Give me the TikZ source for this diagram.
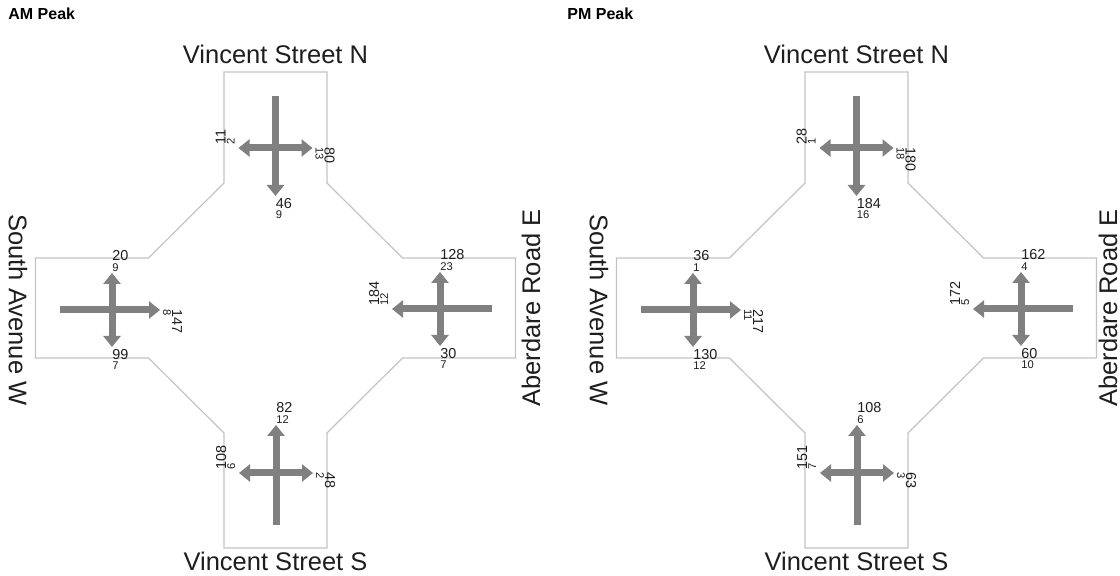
\documentclass[tikz,border=0pt]{standalone}
\usepackage{fontspec}
\setmainfont{Liberation Sans}
\usetikzlibrary{arrows.meta,calc}

\definecolor{roadline}{RGB}{195,195,195}
\definecolor{flowgray}{RGB}{128,128,128}
\definecolor{labeltext}{RGB}{30,30,30}

\tikzset{
    road/.style={draw=roadline, line width=0.6pt},
    flow/.style={draw=flowgray, line width=3.5pt, -{Triangle[length=5.5pt,width=8.5pt]}},
    turns/.style={draw=flowgray, line width=3.5pt, {Triangle[length=5.5pt,width=8.5pt]}-{Triangle[length=5.5pt,width=8.5pt]}},
    bignum/.style={inner sep=0pt, text=labeltext, font=\fontsize{7.2}{7.2}\selectfont},
    smallnum/.style={inner sep=0pt, text=labeltext, font=\fontsize{5.6}{5.6}\selectfont},
    street/.style={inner sep=0pt, text=labeltext, font=\fontsize{12.75}{13}\selectfont},
    peak/.style={inner sep=0pt, font=\bfseries\fontsize{8}{8}\selectfont},
    movecross/.pic={
        \draw [turns] (-37,0) coordinate (-rt) -- (37,0) coordinate (-lt);
        \draw [flow] (0,-52) -- (0,48) coordinate (-th);
    }
}

% volumes next to an arrow tip: big number, small number
\newcommand{\volN}[3]{%
    \node [bignum, anchor=base west] (#1-v) at ($(#1)+(0,-12)$) {#2};
    \node [smallnum, anchor=base west] (#1-s) at ($(#1)+(0,-1)$) {#3};}
\newcommand{\volS}[3]{%
    \node [bignum, anchor=north west] (#1-v) at ($(#1)+(0,2)$) {#2};
    \node [smallnum, anchor=north west] (#1-s) at ($(#1)+(0,14.5)$) {#3};}
\newcommand{\volE}[3]{%
    \node [bignum, rotate=-90, anchor=base west] (#1-v) at ($(#1)+(12,-1)$) {#2};
    \node [smallnum, rotate=-90, anchor=base west] (#1-s) at ($(#1)+(3,-1)$) {#3};}
\newcommand{\volW}[3]{%
    \node [bignum, rotate=90, anchor=base west] (#1-v) at ($(#1)+(-13,-3)$) {#2};
    \node [smallnum, rotate=90, anchor=base west] (#1-s) at ($(#1)+(-4,-3)$) {#3};}

% one intersection, drawn round its centre; #2 = place of the east street name
\newcommand{\junction}[2]{%
    \draw [road] (-51.5,-236) -- (51.5,-236) -- (51.5,-125) -- (127,-50) -- (240,-50)
        -- (240,50) -- (127,50) -- (51.5,125) -- (51.5,240) -- (-51.5,240)
        -- (-51.5,125) -- (-127,50) -- (-240,50) -- (-240,-50) -- (-127,-50)
        -- (-51.5,-125) -- cycle;
    \node [street, anchor=base] (#1north) at (0,-244) {Vincent Street N};
    \node [street, anchor=base] (#1south) at (0,263) {Vincent Street S};
    \node [street, rotate=-90] (#1west) at (-257.5,2) {South Avenue W};
    \node [street, rotate=90] (#1east) at (#2,0) {Aberdare Road E};
    \pic (#1N) at (0,-160) {movecross};
    \pic [rotate=90] (#1W) at (-163.5,2) {movecross};
    \pic [rotate=-90] (#1E) at (164.5,1) {movecross};
    \pic [rotate=180] (#1S) at (0.5,165) {movecross};
}

\begin{document}
\begin{tikzpicture}[x=0.5pt, y=-0.5pt]
    \useasboundingbox (0,0) rectangle (1120,576);

    \node [peak, anchor=base west] (amtitle) at (8,20) {AM Peak};
    \node [peak, anchor=base west] (pmtitle) at (567,20) {PM Peak};

    \begin{scope}[shift={(275.5,308)}]
        \junction{am}{255.5}
    \end{scope}
    \begin{scope}[shift={(856.5,308)}]
        \junction{pm}{251.5}
    \end{scope}

    % AM volumes
    \volW{amN-rt}{11}{2}
    \volS{amN-th}{46}{9}
    \volE{amN-lt}{80}{13}
    \volN{amW-lt}{20}{9}
    \volE{amW-th}{147}{8}
    \volS{amW-rt}{99}{7}
    \volN{amE-rt}{128}{23}
    \volW{amE-th}{184}{12}
    \volS{amE-lt}{30}{7}
    \volN{amS-th}{82}{12}
    \volW{amS-lt}{108}{6}
    \volE{amS-rt}{48}{2}

    % PM volumes
    \volW{pmN-rt}{28}{1}
    \volS{pmN-th}{184}{16}
    \volE{pmN-lt}{180}{18}
    \volN{pmW-lt}{36}{1}
    \volE{pmW-th}{217}{11}
    \volS{pmW-rt}{130}{12}
    \volN{pmE-rt}{162}{4}
    \volW{pmE-th}{172}{5}
    \volS{pmE-lt}{60}{10}
    \volN{pmS-th}{108}{6}
    \volW{pmS-lt}{151}{7}
    \volE{pmS-rt}{63}{3}
\end{tikzpicture}
\end{document}
